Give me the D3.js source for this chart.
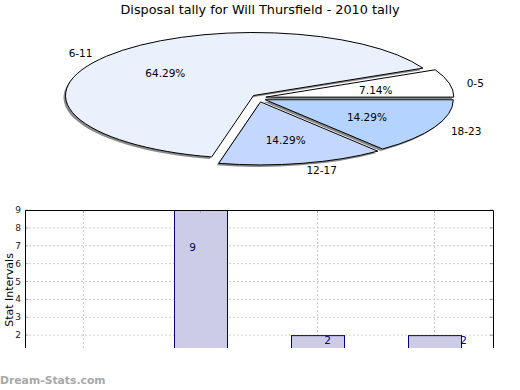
<!DOCTYPE html>
<html><head><meta charset="utf-8">
<script src="https://cdn.jsdelivr.net/npm/d3@7/dist/d3.min.js"></script>
<style>body{margin:0;background:#fff}svg{display:block;font-family:"DejaVu Sans",sans-serif}</style>
</head><body>
<svg id="c" width="520" height="390"></svg>
<script>
const title = "Disposal tally for Will Thursfield - 2010 tally";
const categories = ["0-5", "6-11", "12-17", "18-23"];
const counts = [1, 9, 2, 2];
const sliceColors = ["#ffffff", "#eaf1fd", "#c4d8ff", "#b4d4ff"];
const yTicks = [2, 3, 4, 5, 6, 7, 8, 9];
const yLabel = "Stat Intervals";
const watermark = "Dream-Stats.com";

const svg = d3.select("#c");
svg.append("text").attr("x", 260).attr("y", 14).attr("text-anchor", "middle")
  .attr("font-size", 12.8).text(title);

// ---- Pie (elliptical, exploded, shadowed) ----
const cx = 259, cy = 98, rx = 188, ry = 63, ex = 7, ey = 4;
const total = d3.sum(counts);
const pie = d3.pie().sort(null).startAngle(0).endAngle(2 * Math.PI);
const arcs = pie(counts);
const pg = svg.append("g");
function slicePath(d) {
  const m = (d.startAngle + d.endAngle) / 2;
  const ox = cx + ex * Math.cos(m), oy = cy - ey * Math.sin(m);
  const p = t => [ox + rx * Math.cos(t), oy - ry * Math.sin(t)];
  const s = p(d.startAngle), e = p(d.endAngle);
  const large = (d.endAngle - d.startAngle) > Math.PI ? 1 : 0;
  return { path: `M${ox},${oy}L${s[0]},${s[1]}A${rx},${ry} 0 ${large} 0 ${e[0]},${e[1]}Z`, ox, oy, m };
}
arcs.forEach((d, i) => {
  const sp = slicePath(d);
  pg.append("path").attr("d", sp.path).attr("transform", "translate(-2,2)").attr("fill", "#8a8a8a");
  pg.append("path").attr("d", sp.path).attr("fill", sliceColors[i]).attr("stroke", "#000").attr("stroke-width", 1);
});
const fmt = v => (v / total * 100).toFixed(2) + "%";
arcs.forEach((d, i) => {
  const sp = slicePath(d);
  const c = Math.cos(sp.m), s = Math.sin(sp.m);
  pg.append("text").attr("x", sp.ox + rx * 0.6 * c).attr("y", sp.oy - ry * 0.6 * s + 1)
    .attr("text-anchor", "middle").attr("dominant-baseline", "central").attr("font-size", 10.5).text(fmt(d.data));
  const px = sp.ox + rx * c, py = sp.oy - ry * s;
  pg.append("text").attr("x", px + 18 * c).attr("y", py - 6 * s + 1)
    .attr("text-anchor", c >= 0 ? "start" : "end").attr("dominant-baseline", "central")
    .attr("font-size", 10.5).text(categories[i]);
});

// ---- Bar chart ----
const L = 25, R = 493, T = 210, B = 348;
const x = d3.scaleBand().domain(categories).range([L, R]).paddingInner(0.547).paddingOuter(0.2735);
const y = d3.scaleLinear().domain([1, 9]).range([353, T]);
svg.append("defs").append("clipPath").attr("id", "clip").append("rect")
  .attr("x", L).attr("y", T).attr("width", R - L).attr("height", B - T);
const bg = svg.append("g").attr("clip-path", "url(#clip)");
yTicks.slice(0, -1).forEach(t => {
  bg.append("line").attr("x1", L).attr("x2", R).attr("y1", y(t)).attr("y2", y(t))
    .attr("stroke", "#cccccc").attr("stroke-dasharray", "2,2");
});
categories.forEach(c => {
  const xc = x(c) + x.bandwidth() / 2;
  bg.append("line").attr("x1", xc).attr("x2", xc).attr("y1", T).attr("y2", B)
    .attr("stroke", "#cccccc").attr("stroke-dasharray", "2,2");
});
categories.forEach((c, i) => {
  bg.append("rect").attr("x", x(c) + 0.5).attr("y", y(counts[i]) + 0.5)
    .attr("width", x.bandwidth()).attr("height", Math.max(0, y(1) - y(counts[i])))
    .attr("fill", "#ccccE6").attr("stroke", "#000080").attr("stroke-width", 1);
});
// small tick marks
yTicks.forEach(t => {
  svg.append("line").attr("x1", L).attr("x2", L + 3).attr("y1", y(t)).attr("y2", y(t)).attr("stroke", "#aaa");
  svg.append("line").attr("x1", R - 3).attr("x2", R).attr("y1", y(t)).attr("y2", y(t)).attr("stroke", "#999");
});
categories.forEach(c => {
  const xc = x(c) + x.bandwidth() / 2;
  svg.append("line").attr("x1", xc).attr("x2", xc).attr("y1", T).attr("y2", T + 3).attr("stroke", "#aaa");
});
// frame
svg.append("path").attr("d", `M${L + 0.5},${B}V${T + 0.5}H${R + 0.5}V${B}`)
  .attr("fill", "none").attr("stroke", "#000");
// y tick labels
yTicks.forEach(t => {
  svg.append("text").attr("x", 21).attr("y", y(t)).attr("text-anchor", "end")
    .attr("dominant-baseline", "central").attr("font-size", 9).attr("fill", "#222").text(t);
});
svg.append("text").attr("transform", `translate(13,290) rotate(-90)`).attr("text-anchor", "middle")
  .attr("font-size", 11).text(yLabel);
// value labels
const labelDx = [0, -8, 10, 29], labelDy = [5, 37, 5, 5];
categories.forEach((c, i) => {
  if (counts[i] <= 1) return;
  svg.append("text").attr("x", x(c) + x.bandwidth() / 2 + labelDx[i]).attr("y", y(counts[i]) + labelDy[i])
    .attr("text-anchor", "middle").attr("dominant-baseline", "central")
    .attr("font-size", 10.5).attr("fill", "#000080").text(counts[i]);
});
svg.append("text").attr("x", 0).attr("y", 384).attr("font-size", 10.8).attr("font-weight", "bold")
  .attr("fill", "#a8a8a8").text(watermark);
</script>
</body></html>
